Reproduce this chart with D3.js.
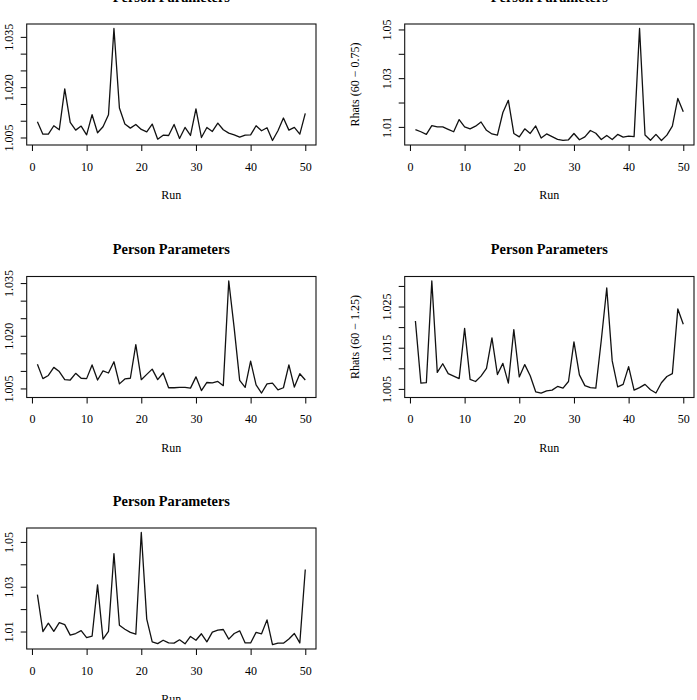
<!DOCTYPE html>
<html>
<head>
<meta charset="utf-8">
<script src="https://cdn.jsdelivr.net/npm/d3@7"></script>
<style>
  body { margin: 0; background: #fff; }
  svg { display: block; font-family: "Liberation Serif", "Times New Roman", serif; }
  .tick line { stroke: #000; }
  .tick text { fill: #000; font-size: 12px; font-family: "Liberation Serif", "Times New Roman", serif; }
</style>
</head>
<body>
<svg id="chart" width="697" height="700"></svg>
<script>
// Rhat values per run (runs 1..50)
const rhatA = [1.0097, 1.0060, 1.0060, 1.0085, 1.0073, 1.0195, 1.0095, 1.0072, 1.0084, 1.0058,
               1.0118, 1.0064, 1.0082, 1.0118, 1.0375, 1.0138, 1.0090, 1.0078, 1.0089, 1.0074,
               1.0067, 1.0090, 1.0045, 1.0057, 1.0056, 1.0089, 1.0047, 1.0080, 1.0056, 1.0135,
               1.0050, 1.0080, 1.0068, 1.0093, 1.0073, 1.0063, 1.0058, 1.0051, 1.0057, 1.0058,
               1.0085, 1.0070, 1.0079, 1.0041, 1.0070, 1.0108, 1.0072, 1.0080, 1.0060, 1.0122];

const rhatB = [1.0089, 1.0080, 1.0069, 1.0105, 1.0100, 1.0100, 1.0090, 1.0080, 1.0130, 1.0100,
               1.0092, 1.0103, 1.0120, 1.0086, 1.0071, 1.0066, 1.0159, 1.0209, 1.0073, 1.0059,
               1.0092, 1.0073, 1.0104, 1.0054, 1.0071, 1.0060, 1.0049, 1.0045, 1.0047, 1.0073,
               1.0047, 1.0059, 1.0085, 1.0074, 1.0048, 1.0065, 1.0048, 1.0069, 1.0058, 1.0062,
               1.0060, 1.0504, 1.0067, 1.0045, 1.0069, 1.0044, 1.0066, 1.0103, 1.0217, 1.0162];

const rhatC = [1.0119, 1.0078, 1.0087, 1.0110, 1.0098, 1.0075, 1.0074, 1.0093, 1.0079, 1.0078,
               1.0117, 1.0074, 1.0100, 1.0094, 1.0126, 1.0063, 1.0077, 1.0079, 1.0175, 1.0075,
               1.0090, 1.0105, 1.0075, 1.0094, 1.0052, 1.0052, 1.0053, 1.0053, 1.0051, 1.0083,
               1.0044, 1.0067, 1.0066, 1.0070, 1.0058, 1.0356, 1.0221, 1.0073, 1.0053, 1.0128,
               1.0060, 1.0037, 1.0063, 1.0065, 1.0046, 1.0052, 1.0117, 1.0054, 1.0092, 1.0074];

const rhatD = [1.0215, 1.0064, 1.0065, 1.0312, 1.0090, 1.0111, 1.0087, 1.0081, 1.0075, 1.0197,
               1.0073, 1.0068, 1.0081, 1.0100, 1.0174, 1.0085, 1.0112, 1.0064, 1.0194, 1.0079,
               1.0109, 1.0082, 1.0043, 1.0040, 1.0045, 1.0047, 1.0056, 1.0052, 1.0068, 1.0164,
               1.0084, 1.0058, 1.0053, 1.0052, 1.0168, 1.0295, 1.0118, 1.0055, 1.0061, 1.0104,
               1.0047, 1.0053, 1.0061, 1.0048, 1.0040, 1.0065, 1.0080, 1.0087, 1.0244, 1.0207];

const rhatE = [1.0265, 1.0100, 1.0137, 1.0101, 1.0140, 1.0131, 1.0084, 1.0091, 1.0104, 1.0073,
               1.0079, 1.0308, 1.0066, 1.0101, 1.0448, 1.0128, 1.0110, 1.0096, 1.0088, 1.0542,
               1.0155, 1.0054, 1.0046, 1.0061, 1.0049, 1.0048, 1.0063, 1.0045, 1.0078, 1.0061,
               1.0090, 1.0054, 1.0097, 1.0106, 1.0109, 1.0066, 1.0091, 1.0103, 1.0049, 1.0049,
               1.0096, 1.0090, 1.0152, 1.0042, 1.0048, 1.0048, 1.0067, 1.0091, 1.0049, 1.0377];

// Axis ticks
const xTicks = [0, 10, 20, 30, 40, 50];
const yTicksFine = [1.005, 1.010, 1.015, 1.020, 1.025, 1.030, 1.035];
const yLabelsFine = [1.005, 1.020, 1.035];
const yTicksMid = [1.005, 1.010, 1.015, 1.020, 1.025, 1.030];
const yLabelsMid = [1.005, 1.015, 1.025];
const yTicksCoarse = [1.01, 1.02, 1.03, 1.04, 1.05];
const yLabelsCoarse = [1.01, 1.03, 1.05];

const title = 'Person Parameters';
const xTitle = 'Run';

const svg = d3.select('#chart');

// Box geometry shared by all panels
const boxW = 289.3;
const boxH = 121;

function drawPanel(cfg) {
  const g = svg.append('g')
    .attr('transform', `translate(${cfg.left},${cfg.top})`);

  const n = cfg.values.length;
  const xPad = (n - 1) * 0.04;
  const xScale = d3.scaleLinear()
    .domain([1 - xPad, n + xPad])
    .range([0, boxW]);

  // R-style 4% extension of the data range
  const [lo, hi] = d3.extent(cfg.values);
  const yPad = (hi - lo) * 0.04;
  const yScale = d3.scaleLinear()
    .domain([lo - yPad, hi + yPad])
    .range([boxH, 0]);

  const line = d3.line()
    .x((d, i) => xScale(i + 1))
    .y(d => yScale(d));

  g.append('path')
    .datum(cfg.values)
    .attr('fill', 'none')
    .attr('stroke', '#111')
    .attr('stroke-width', 1.3)
    .attr('stroke-linejoin', 'round')
    .attr('d', line);

  // x axis
  const xAxisG = g.append('g')
    .attr('transform', `translate(0,${boxH})`)
    .call(d3.axisBottom(xScale).tickValues(xTicks).tickSize(6).tickSizeOuter(0).tickPadding(11));
  xAxisG.select('.domain').remove();

  // y axis, only some ticks labelled, labels vertical like base R
  const fmt = d3.format(cfg.fmt);
  const yAxisG = g.append('g')
    .call(d3.axisLeft(yScale).tickValues(cfg.yTicks).tickSize(6).tickSizeOuter(0)
      .tickFormat(d => cfg.yLabels.some(v => Math.abs(v - d) < 1e-9) ? fmt(d) : ''));
  yAxisG.select('.domain').remove();
  yAxisG.selectAll('.tick text')
    .attr('x', null)
    .attr('dy', null)
    .attr('text-anchor', 'middle')
    .attr('transform', 'translate(-14,0) rotate(-90)');

  // frame
  g.append('rect')
    .attr('width', boxW)
    .attr('height', boxH)
    .attr('fill', 'none')
    .attr('stroke', '#111')
    .attr('stroke-width', 1.1);

  g.append('text')
    .attr('x', boxW / 2)
    .attr('y', -22.5)
    .attr('text-anchor', 'middle')
    .attr('font-size', 14.4)
    .attr('font-weight', 'bold')
    .text(title);

  g.append('text')
    .attr('x', boxW / 2)
    .attr('y', boxH + 54)
    .attr('text-anchor', 'middle')
    .attr('font-size', 12)
    .text(xTitle);

  if (cfg.yTitle) {
    g.append('text')
      .attr('transform', `translate(-46,${boxH / 2}) rotate(-90)`)
      .attr('text-anchor', 'middle')
      .attr('font-size', 12)
      .text(cfg.yTitle);
  }
}

drawPanel({ left: 26.7, top: 24, values: rhatA, yTicks: yTicksFine, yLabels: yLabelsFine, fmt: '.3f' });
drawPanel({ left: 404.7, top: 24, values: rhatB, yTicks: yTicksCoarse, yLabels: yLabelsCoarse, fmt: '.2f',
            yTitle: 'Rhats (60 \u2212 0.75)' });
drawPanel({ left: 26.7, top: 276.5, values: rhatC, yTicks: yTicksFine, yLabels: yLabelsFine, fmt: '.3f' });
drawPanel({ left: 404.7, top: 276.5, values: rhatD, yTicks: yTicksMid, yLabels: yLabelsMid, fmt: '.3f',
            yTitle: 'Rhats (60 \u2212 1.25)' });
drawPanel({ left: 26.7, top: 528, values: rhatE, yTicks: yTicksCoarse, yLabels: yLabelsCoarse, fmt: '.2f' });
</script>
</body>
</html>
